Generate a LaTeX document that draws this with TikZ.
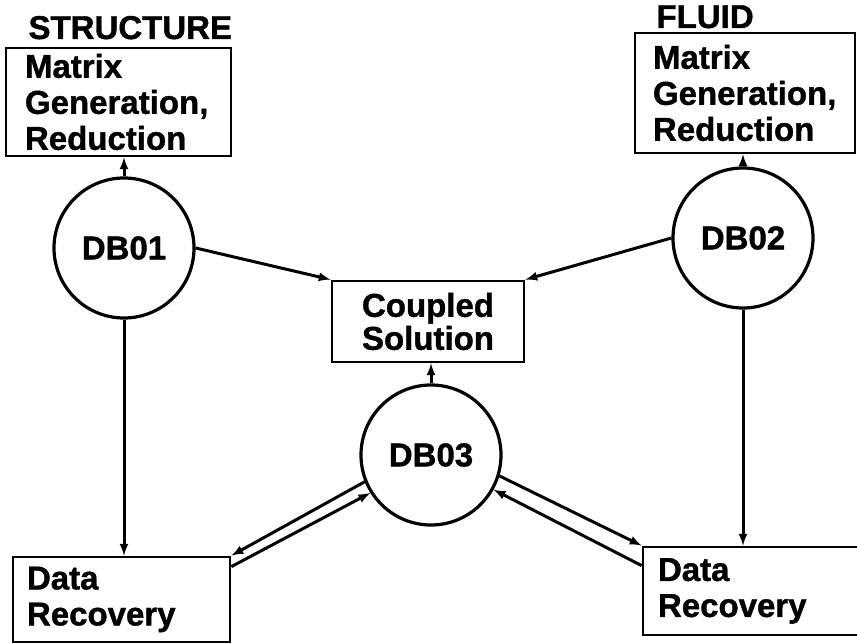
\documentclass[tikz,border=0pt]{standalone}
\usepackage{fontspec}
\setmainfont{Liberation Sans}[BoldFeatures={FakeBold=1.2}]
\usepackage{tikz}
\usetikzlibrary{arrows}
\tikzset{>=latex}

\begin{document}
\begin{tikzpicture}[x=1pt, y=-1pt, font=\bfseries\fontsize{33}{36}\selectfont]
    % DB = data base circles, boxes hold the program steps
    \tikzset{>=latex}
    \useasboundingbox (0,0) rectangle (857,644);
    \tikzstyle{db}=[circle, draw=black, line width=3.2pt, minimum size=140pt, inner sep=0pt]
    \tikzstyle{box}=[rectangle, draw=black, line width=2.8pt, align=left, inner ysep=0pt]
    \tikzstyle{every edge}=[black, ->, line width=3pt, draw]
    \node[anchor=base west] (SL) at (25,39) {STRUCTURE};
    \node[anchor=base west] (FL) at (653,28) {FLUID};
    \node[box, minimum width=225pt, minimum height=108pt, inner xsep=19pt, text width=187pt] (S) at (118.5,102) {Matrix\\Generation,\\Reduction};
    \node[box, minimum width=220pt, minimum height=120pt, inner xsep=18pt, text width=184pt] (F) at (745,93) {Matrix\\Generation,\\Reduction};
    \node[db] (DB1) at (124,248) {DB01};
    \node[db] (DB2) at (743,238) {DB02};
    \node[db] (DB3) at (431,455) {DB03};
    \node[box, align=center, minimum width=192pt, minimum height=81pt, inner xsep=0pt, font=\bfseries\fontsize{33}{33}\selectfont] (CS) at (428,321.5) {Coupled\\Solution};
    \node[box, minimum width=217pt, minimum height=85pt, inner xsep=14pt, text width=189pt] (DR1) at (121.5,599.5) {Data\\Recovery};
    \node[box, minimum width=237pt, minimum height=88pt, inner xsep=15pt, text width=207pt] (DR2) at (761.5,591) {Data\\Recovery};
    \draw (DB1.north) edge (DB1.north |- S.south);
    \draw (DB2.north) edge (DB2.north |- F.south);
    \draw (DB1.east) edge (CS.north west);
    \draw (DB2.west) edge (CS.north east);
    \draw (DB3.north) edge (DB3.north |- CS.south);
    \draw (DB1.south) edge (DB1.south |- DR1.north);
    \draw (DB2.south) edge (DB2.south |- DR2.north);
    \draw (DB3.202) edge (DR1.north east);
    \draw ([yshift=-11pt]DR1.north east) edge (DB3.212);
    \draw (DB3.-17) edge (DR2.north west);
    \draw ([yshift=-20pt]DR2.north west) edge (DB3.-29);
\end{tikzpicture}
\end{document}
